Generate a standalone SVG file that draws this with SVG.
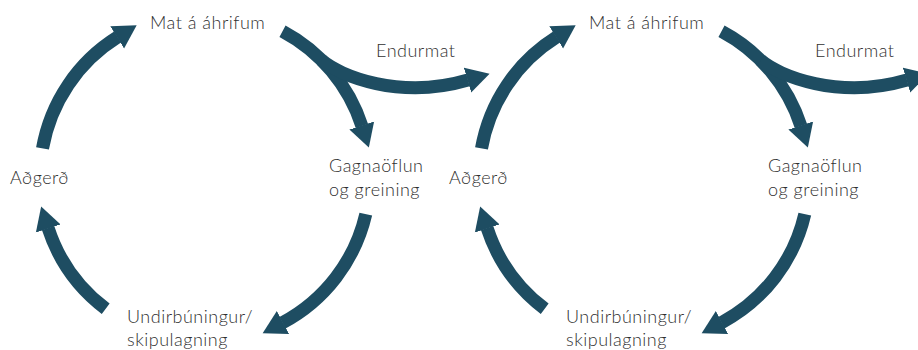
<svg xmlns="http://www.w3.org/2000/svg" width="918" height="350" viewBox="0 0 918 350">
  <defs>
    <marker id="head" markerUnits="userSpaceOnUse" markerWidth="24" markerHeight="28" viewBox="0 0 24 28" refX="0.5" refY="14" orient="auto">
      <path d="M0,1 L23,14 L0,27 z" fill="#1e4d62"/>
    </marker>
    <style>
      .arc { fill: none; stroke: #1e4d62; stroke-width: 13; marker-end: url(#head); }
      .lbl { font-family: Lato, "Open Sans", "Liberation Sans", sans-serif; font-size: 18px; font-weight: 300; letter-spacing: 0.5px; fill: #2f2f2f; }
    </style>
  </defs>
  <rect width="918" height="350" fill="#ffffff"/>

  <g id="connectors">
    <g id="cycle1-connectors">
      <path class="arc" d="M42.5,148.4 A165,165 0 0 1 117.6,37.1"/>
      <path class="arc" d="M282.5,31.3 A165,165 0 0 1 361.9,126.0"/>
      <path class="arc" d="M321.7,60.3 C340,76 400,100 468,80"/>
      <path class="arc" d="M365.8,214.1 A165,165 0 0 1 282.5,322.7"/>
      <path class="arc" d="M105.7,308.8 A165,165 0 0 1 48.1,228.0"/>
    </g>
    <g id="cycle2-connectors" transform="translate(439,0)">
      <path class="arc" d="M42.5,148.4 A165,165 0 0 1 117.6,37.1"/>
      <path class="arc" d="M282.5,31.3 A165,165 0 0 1 361.9,126.0"/>
      <path class="arc" d="M321.7,60.3 C340,76 400,100 468,80"/>
      <path class="arc" d="M365.8,214.1 A165,165 0 0 1 282.5,322.7"/>
      <path class="arc" d="M105.7,308.8 A165,165 0 0 1 48.1,228.0"/>
    </g>
  </g>

  <g id="c1-mat"><text class="lbl" x="150" y="29">Mat á áhrifum</text></g>
  <g id="c1-endurmat"><text class="lbl" x="376" y="57">Endurmat</text></g>
  <g id="c1-gagnaoflun"><text class="lbl" x="329" y="172">Gagnaöflun</text><text class="lbl" x="329" y="196">og greining</text></g>
  <g id="c1-undirbuningur"><text class="lbl" x="127" y="323">Undirbúningur/</text><text class="lbl" x="127" y="346">skipulagning</text></g>
  <g id="c1-adgerd"><text class="lbl" x="10" y="184">Aðgerð</text></g>

  <g id="c2-mat"><text class="lbl" x="589" y="29">Mat á áhrifum</text></g>
  <g id="c2-endurmat"><text class="lbl" x="815" y="57">Endurmat</text></g>
  <g id="c2-gagnaoflun"><text class="lbl" x="768" y="172">Gagnaöflun</text><text class="lbl" x="768" y="196">og greining</text></g>
  <g id="c2-undirbuningur"><text class="lbl" x="566" y="323">Undirbúningur/</text><text class="lbl" x="566" y="346">skipulagning</text></g>
  <g id="c2-adgerd"><text class="lbl" x="449" y="184">Aðgerð</text></g>
</svg>
